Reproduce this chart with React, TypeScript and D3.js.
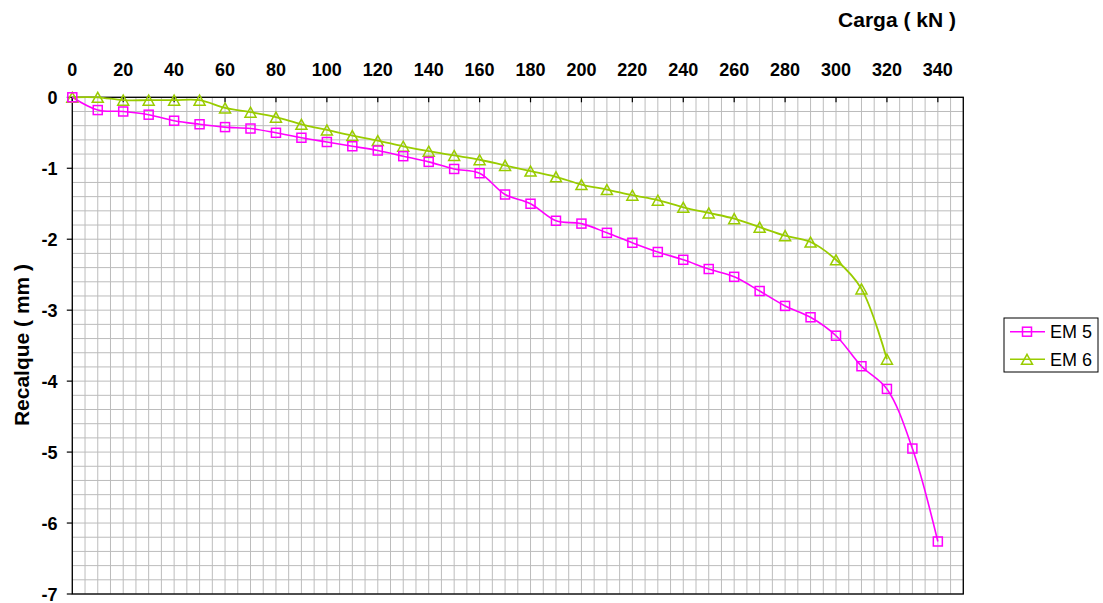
import React from "react";
import * as d3 from "d3";

const loadsEM5 = [0, 10, 20, 30, 40, 50, 60, 70, 80, 90, 100, 110, 120, 130, 140, 150, 160, 170, 180, 190, 200, 210, 220, 230, 240, 250, 260, 270, 280, 290, 300, 310, 320, 330, 340];
const settleEM5 = [0, -0.18, -0.2, -0.245, -0.33, -0.38, -0.42, -0.44, -0.5, -0.57, -0.63, -0.69, -0.75, -0.83, -0.91, -1.01, -1.07, -1.37, -1.5, -1.74, -1.78, -1.91, -2.05, -2.18, -2.29, -2.42, -2.53, -2.73, -2.94, -3.1, -3.36, -3.79, -4.11, -4.95, -6.26];
const loadsEM6 = [0, 10, 20, 30, 40, 50, 60, 70, 80, 90, 100, 110, 120, 130, 140, 150, 160, 170, 180, 190, 200, 210, 220, 230, 240, 250, 260, 270, 280, 290, 300, 310, 320];
const settleEM6 = [0, 0, -0.04, -0.04, -0.04, -0.04, -0.15, -0.21, -0.28, -0.38, -0.46, -0.54, -0.61, -0.69, -0.76, -0.82, -0.88, -0.96, -1.04, -1.12, -1.23, -1.3, -1.38, -1.45, -1.55, -1.63, -1.71, -1.83, -1.95, -2.04, -2.29, -2.7, -3.69];
const xTicks = [0, 20, 40, 60, 80, 100, 120, 140, 160, 180, 200, 220, 240, 260, 280, 300, 320, 340];
const yTicks = [0, -1, -2, -3, -4, -5, -6, -7];
const seriesNames = ["EM 5", "EM 6"];
const seriesColors = ["#ff00ff", "#99cc00"];

const W = 1103, H = 603;
const L = 72.3, R = 963.3, T = 97.3, B = 594;

export default function App() {
  const x = d3.scaleLinear().domain([0, 350]).range([L, R]);
  const y = d3.scaleLinear().domain([0, -7]).range([T, B]);
  const xMinor = d3.range(0, 350.1, 5);
  const yMinor = d3.range(0, -7.01, -0.2);

  const line = d3
    .line<[number, number]>()
    .x((d) => x(d[0]))
    .y((d) => y(d[1]))
    .curve(d3.curveCatmullRom.alpha(0.5));

  const s5: [number, number][] = loadsEM5.map((l, i) => [l, settleEM5[i]]);
  const s6: [number, number][] = loadsEM6.map((l, i) => [l, settleEM6[i]]);

  const square = (cx: number, cy: number, c: string, k: string) => (
    <rect key={k} x={cx - 4.5} y={cy - 4.5} width={9} height={9} fill="none" stroke={c} strokeWidth={1.5} />
  );
  const tri = (cx: number, cy: number, c: string, k: string) => (
    <path key={k} d={`M${cx},${cy - 5} L${cx + 5.5},${cy + 5} L${cx - 5.5},${cy + 5} Z`} fill="none" stroke={c} strokeWidth={1.5} />
  );

  const font = "'Liberation Sans', Arial, sans-serif";

  return (
    <svg width={W} height={H} style={{ position: "absolute", left: 0, top: 0, background: "#fff" }} fontFamily={font}>
      <rect x={0} y={0} width={W} height={H} fill="#fff" />
      <g stroke="#bcbcbc" strokeWidth={1}>
        {xMinor.map((v, i) => (
          <line key={"gx" + i} x1={x(v)} x2={x(v)} y1={T} y2={B} />
        ))}
        {yMinor.map((v, i) => (
          <line key={"gy" + i} x1={L} x2={R} y1={y(v)} y2={y(v)} />
        ))}
      </g>
      <rect x={L} y={T} width={R - L} height={B - T} fill="none" stroke="#000" strokeWidth={1.3} />
      {xTicks.map((v) => (
        <g key={"xt" + v}>
          <line x1={x(v)} x2={x(v)} y1={T} y2={T + 5} stroke="#000" strokeWidth={1.2} />
          <text x={x(v)} y={76} textAnchor="middle" fontSize={18} fontWeight="bold" fill="#000">
            {v}
          </text>
        </g>
      ))}
      {yTicks.map((v) => (
        <g key={"yt" + v}>
          <line x1={L - 5.5} x2={L} y1={y(v)} y2={y(v)} stroke="#000" strokeWidth={1.2} />
          <text x={57.5} y={y(v) + 6.5} textAnchor="end" fontSize={18} fontWeight="bold" fill="#000">
            {v}
          </text>
        </g>
      ))}
      <text x={897} y={27} textAnchor="middle" fontSize={21} fontWeight="bold" fill="#000">
        Carga ( kN )
      </text>
      <text transform={`translate(29,345) rotate(-90)`} textAnchor="middle" fontSize={21} fontWeight="bold" fill="#000">
        Recalque ( mm )
      </text>
      <path d={line(s6) || ""} fill="none" stroke={seriesColors[1]} strokeWidth={1.8} />
      <path d={line(s5) || ""} fill="none" stroke={seriesColors[0]} strokeWidth={1.6} />
      {s6.map((d, i) => tri(x(d[0]), y(d[1]), seriesColors[1], "t" + i))}
      {s5.map((d, i) => square(x(d[0]), y(d[1]), seriesColors[0], "s" + i))}
      <rect x={1004} y={318} width={94} height={54} fill="#fff" stroke="#000" strokeWidth={1} />
      {seriesNames.map((n, i) => {
        const cy = 331.7 + i * 27.6;
        return (
          <g key={"lg" + i}>
            <line x1={1010} x2={1045} y1={cy} y2={cy} stroke={seriesColors[i]} strokeWidth={1.6} />
            {i === 0 ? square(1027, cy, seriesColors[i], "ls") : tri(1027, cy, seriesColors[i], "lt")}
            <text x={1050} y={cy + 6.5} fontSize={18} fill="#000">
              {n}
            </text>
          </g>
        );
      })}
    </svg>
  );
}
